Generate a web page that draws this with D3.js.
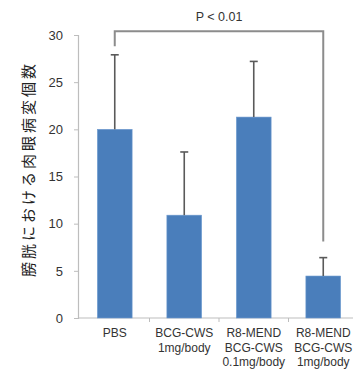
<!DOCTYPE html>
<html>
<head>
<meta charset="utf-8">
<script src="https://cdn.jsdelivr.net/npm/d3@7"></script>
<style>
  html, body { margin: 0; padding: 0; background: #fff; }
  svg { display: block; }
  text { font-family: "Liberation Sans", Arial, sans-serif; fill: #333; }
</style>
</head>
<body>
<svg id="chart" width="353" height="372"></svg>
<script>
// Group labels (multi-line), mean lesion counts and upper error values
const groups = [
  ["PBS"],
  ["BCG-CWS", "1mg/body"],
  ["R8-MEND", "BCG-CWS", "0.1mg/body"],
  ["R8-MEND", "BCG-CWS", "1mg/body"]
];
const means = [20.0, 10.9, 21.3, 4.45];
const errorTops = [27.9, 17.6, 27.2, 6.4];
const yTicks = [0, 5, 10, 15, 20, 25, 30];
const yLabel = "膀胱における肉眼病変個数";
const pText = "P < 0.01";
// significance bracket between the first and the last group
const bracket = { from: 0, to: 3, top: 30.4, leftEnd: 28.8, rightEnd: 8.1 };

const svg = d3.select("#chart");
const plot = { axisX: 78, left: 80, right: 358, top: 35, bottom: 318 };

const x = d3.scaleBand().domain(d3.range(groups.length)).range([plot.left, plot.right]).paddingInner(0.5).paddingOuter(0.25);
const xBand = d3.scaleBand().domain(d3.range(groups.length)).range([plot.left, plot.right]);
const y = d3.scaleLinear().domain([0, 30]).range([plot.bottom, plot.top]);

// y axis
const yAxis = svg.append("g").attr("transform", `translate(${plot.axisX},0)`)
  .call(d3.axisLeft(y).tickValues(yTicks).tickSize(4).tickPadding(11));
yAxis.select(".domain").attr("stroke", "#bdbdbd").attr("stroke-width", 1.2);
yAxis.selectAll(".tick line").attr("stroke", "#bdbdbd");
yAxis.selectAll(".tick text").attr("font-size", 13).attr("fill", "#333")
  .style("font-family", "'Liberation Sans', Arial, sans-serif");

// x axis line and category separators
svg.append("line").attr("x1", plot.axisX).attr("x2", 353).attr("y1", plot.bottom).attr("y2", plot.bottom)
  .attr("stroke", "#bdbdbd").attr("stroke-width", 1.2);
svg.selectAll(".sep").data(d3.range(1, groups.length)).join("line")
  .attr("x1", d => xBand(d)).attr("x2", d => xBand(d))
  .attr("y1", plot.bottom).attr("y2", plot.bottom + 4)
  .attr("stroke", "#bdbdbd");

// bars
svg.selectAll(".bar").data(means).join("rect")
  .attr("x", (d, i) => x(i)).attr("width", x.bandwidth())
  .attr("y", d => y(d)).attr("height", d => y(0) - y(d))
  .attr("fill", "#4a7ebb").attr("stroke", "#6f9bd0").attr("stroke-width", 0.6);

// error bars (upper only)
const eb = svg.selectAll(".err").data(means).join("g");
eb.append("line")
  .attr("x1", (d, i) => x(i) + x.bandwidth() / 2).attr("x2", (d, i) => x(i) + x.bandwidth() / 2)
  .attr("y1", d => y(d)).attr("y2", (d, i) => y(errorTops[i]))
  .attr("stroke", "#5a5a5a").attr("stroke-width", 1.6);
eb.append("line")
  .attr("x1", (d, i) => x(i) + x.bandwidth() / 2 - 4).attr("x2", (d, i) => x(i) + x.bandwidth() / 2 + 4)
  .attr("y1", (d, i) => y(errorTops[i])).attr("y2", (d, i) => y(errorTops[i]))
  .attr("stroke", "#5a5a5a").attr("stroke-width", 1.6);

// significance bracket
const bx1 = x(bracket.from) + x.bandwidth() / 2;
const bx2 = x(bracket.to) + x.bandwidth() / 2;
svg.append("path")
  .attr("d", `M${bx1},${y(bracket.leftEnd)}V${y(bracket.top)}H${bx2}V${y(bracket.rightEnd)}`)
  .attr("fill", "none").attr("stroke", "#8c8c8c").attr("stroke-width", 2);
svg.append("text").attr("x", (bx1 + bx2) / 2).attr("y", 21)
  .attr("text-anchor", "middle").attr("font-size", 12.5).text(pText);

// category labels
svg.selectAll(".cat").data(groups).join("text")
  .attr("text-anchor", "middle").attr("font-size", 12)
  .attr("transform", (d, i) => `translate(${x(i) + x.bandwidth() / 2},337)`)
  .selectAll("tspan").data(d => d).join("tspan")
  .attr("x", 0).attr("dy", (d, i) => i === 0 ? 0 : 14.5).text(d => d);

// y axis title
svg.append("text")
  .attr("transform", `translate(34,169) rotate(-90)`)
  .attr("text-anchor", "middle").attr("font-size", 15).attr("letter-spacing", 3)
  .style("font-family", "'Noto Sans CJK JP', sans-serif").style("fill", "#222")
  .text(yLabel);
</script>
</body>
</html>
